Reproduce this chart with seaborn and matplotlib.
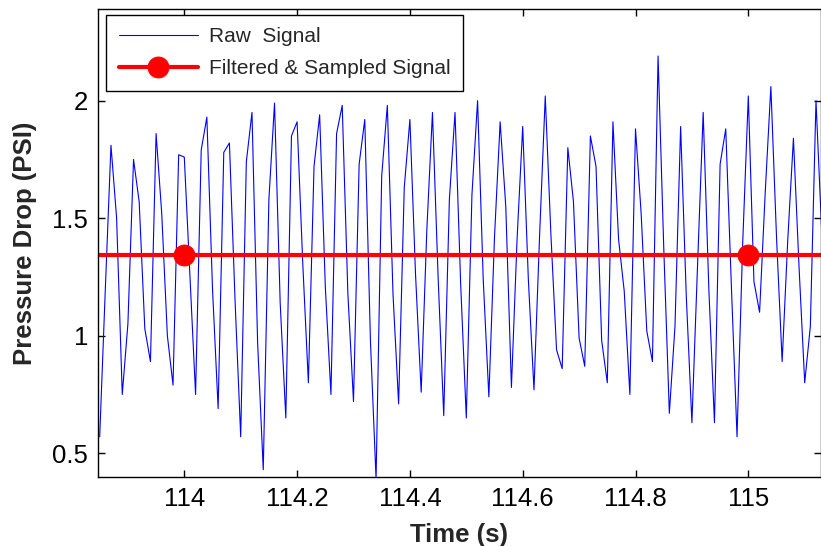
import matplotlib
matplotlib.use("Agg")
import matplotlib.pyplot as plt
import seaborn as sns

# ---- data ----
raw_start = 113.85   # first sample time (s)
raw_step = 0.01      # sampling interval (s)
raw_values = [
    0.57, 1.20, 1.81, 1.50, 0.75, 1.05, 1.75, 1.57, 1.03, 0.89,
    1.86, 1.52, 1.00, 0.79, 1.77, 1.76, 1.25, 0.75, 1.79, 1.93,
    1.20, 0.69, 1.78, 1.82, 1.15, 0.57, 1.74, 1.95, 0.97, 0.43,
    1.58, 1.99, 1.14, 0.65, 1.85, 1.91, 1.31, 0.80, 1.72, 1.94,
    1.21, 0.75, 1.86, 1.98, 1.18, 0.72, 1.73, 1.92, 0.98, 0.39,
    1.68, 1.98, 1.18, 0.71, 1.63, 1.92, 1.26, 0.76, 1.45, 1.95,
    1.25, 0.66, 1.58, 1.95, 1.22, 0.65, 1.60, 2.00, 1.24, 0.74,
    1.42, 1.91, 1.55, 0.78, 1.41, 1.89, 1.24, 0.77, 1.43, 2.02,
    1.43, 0.94, 0.86, 1.80, 1.57, 0.99, 0.87, 1.85, 1.72, 0.98,
    0.80, 1.91, 1.41, 1.19, 0.75, 1.88, 1.52, 1.02, 0.89, 2.19,
    1.38, 0.67, 1.04, 1.89, 1.17, 0.63, 1.30, 1.95, 1.20, 0.63,
    1.73, 1.88, 1.21, 0.57, 1.39, 2.02, 1.23, 1.10, 1.61, 2.06,
    1.42, 0.89, 1.41, 1.84, 1.29, 0.80, 1.04, 2.00, 1.45,
]
raw_time = [round(raw_start + raw_step * i, 2) for i in range(len(raw_values))]

filtered_time = [113.0, 114.0, 115.0, 116.0]
filtered_values = [1.345, 1.345, 1.345, 1.345]

x_ticks = [114, 114.2, 114.4, 114.6, 114.8, 115]
x_tick_labels = ["114", "114.2", "114.4", "114.6", "114.8", "115"]
y_ticks = [0.5, 1, 1.5, 2]
y_tick_labels = ["0.5", "1", "1.5", "2"]

# ---- styling ----
sns.set_style("ticks")
plt.rcParams["font.family"] = ["Liberation Sans", "DejaVu Sans"]

fig = plt.figure(figsize=(8.21, 5.46), dpi=100)
ax = fig.add_axes([98 / 821, 1 - 477 / 546, 722.5 / 821, 468 / 546])

sns.lineplot(x=raw_time, y=raw_values, ax=ax, color="#0000ff", linewidth=0.8,
             label="Raw  Signal")
sns.lineplot(x=filtered_time, y=filtered_values, ax=ax, color="#ff0000",
             linewidth=3, marker="o", markersize=15, markeredgecolor="#ff0000",
             markerfacecolor="#ff0000", label="Filtered & Sampled Signal")

ax.set_xlim(113.847, 115.128)
ax.set_ylim(0.399, 2.39)
ax.set_xticks(x_ticks)
ax.set_xticklabels(x_tick_labels)
ax.set_yticks(y_ticks)
ax.set_yticklabels(y_tick_labels)

ax.tick_params(direction="in", length=5, width=1, top=True, right=True,
               labelsize=18.5, colors="black", pad=7)
for s in ax.spines.values():
    s.set_visible(True)
    s.set_linewidth(1.0)
    s.set_color("black")

ax.set_xlabel("Time (s)", fontsize=18.5, fontweight="bold", labelpad=9)
ax.set_ylabel("Pressure Drop (PSI)", fontsize=18.5, fontweight="bold", labelpad=11)

leg = ax.legend(loc="upper left", bbox_to_anchor=(8 / 722.5, 1 - 6 / 468),
                borderaxespad=0, fontsize=15, frameon=True, fancybox=False,
                edgecolor="black", framealpha=1, handlelength=3.8,
                handletextpad=0.55, labelspacing=0.62, borderpad=0.6)
leg.get_frame().set_linewidth(1.0)

fig.savefig("out.png", dpi=100)
